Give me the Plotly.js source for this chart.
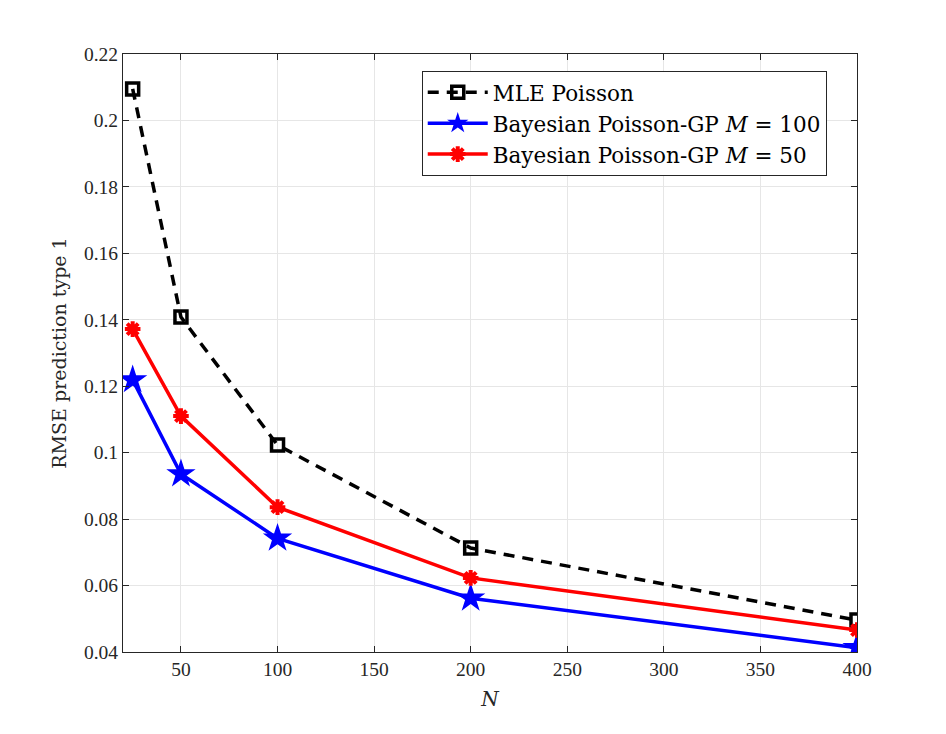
<!DOCTYPE html>
<html>
<head>
<meta charset="utf-8">
<script src="https://cdn.plot.ly/plotly-3.0.1.min.js"></script>
<style>html,body{margin:0;padding:0;background:#fff;}</style>
</head>
<body>
<div id="chart" style="width:946px;height:734px;"></div>
<script>
// Sample sizes N
const N = [25, 50, 100, 200, 400];
// RMSE of type-1 prediction for each method
const mlePoisson = [0.2095, 0.1408, 0.1023, 0.0713, 0.0496];
const bayesM100 = [0.1219, 0.0936, 0.0742, 0.0562, 0.0413];
const bayesM50 = [0.1372, 0.1110, 0.0836, 0.0623, 0.0466];

const names = ['MLE Poisson', 'Bayesian Poisson-GP <i>M</i> = 100', 'Bayesian Poisson-GP <i>M</i> = 50'];

const yTickVals = [0.04, 0.06, 0.08, 0.1, 0.12, 0.14, 0.16, 0.18, 0.2, 0.22];
const yTickText = ['0.04', '0.06', '0.08', '0.1', '0.12', '0.14', '0.16', '0.18', '0.2', '0.22'];
const xTickVals = [50, 100, 150, 200, 250, 300, 350, 400];

const axisColor = '#262626';
const tickFont = 'Liberation Serif, Times New Roman, serif';
const textFont = 'DejaVu Serif, Liberation Serif, serif';

const traces = [
  {
    x: N, y: mlePoisson, name: names[0], mode: 'lines+markers',
    line: {color: '#000000', width: 3.5, dash: '11px,8px'},
    marker: {symbol: 'square-open', size: 12, color: '#000000', line: {width: 3.5, color: '#000000'}}
  },
  {
    x: N, y: bayesM100, name: names[1], mode: 'lines+markers',
    line: {color: '#0000ff', width: 3.5},
    marker: {symbol: 'star', size: 22, color: '#0000ff', line: {width: 0}}
  },
  {
    x: N, y: bayesM50, name: names[2], mode: 'lines+markers',
    line: {color: '#ff0000', width: 3.5},
    marker: {symbol: 'asterisk-open', size: 13, color: '#ff0000', line: {width: 4, color: '#ff0000'}}
  }
];

const axisCommon = {
  showline: true, mirror: 'ticks', linecolor: axisColor, linewidth: 1,
  ticks: 'inside', ticklen: 6, tickcolor: axisColor, tickwidth: 1,
  showgrid: true, gridcolor: '#e6e6e6', gridwidth: 1,
  zeroline: false,
  tickfont: {family: tickFont, size: 19.5, color: axisColor}
};

const layout = {
  width: 946, height: 734,
  margin: {l: 123, r: 89, t: 54, b: 82},
  paper_bgcolor: '#ffffff', plot_bgcolor: '#ffffff',
  showlegend: true,
  legend: {
    x: 0.407, y: 0.972, xanchor: 'left', yanchor: 'top',
    bgcolor: '#ffffff', bordercolor: axisColor, borderwidth: 1,
    font: {family: textFont, size: 21.5, color: '#000000'},
    tracegroupgap: 0, itemwidth: 60
  },
  xaxis: Object.assign({}, axisCommon, {
    range: [20, 400], tickvals: xTickVals,
    title: {text: '<i>N</i>', font: {family: textFont, size: 20, color: axisColor}, standoff: 12}
  }),
  yaxis: Object.assign({}, axisCommon, {
    range: [0.04, 0.22], tickvals: yTickVals, ticktext: yTickText,
    title: {text: 'RMSE prediction type 1', font: {family: textFont, size: 19, color: axisColor}, standoff: 12}
  })
};

Plotly.newPlot('chart', traces, layout, {displayModeBar: false, staticPlot: true});
</script>
</body>
</html>
